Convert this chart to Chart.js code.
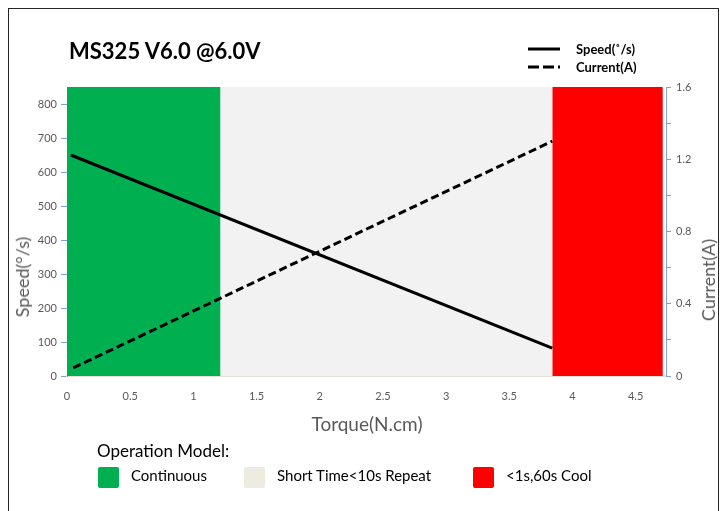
<!DOCTYPE html>
<html>
<head>
<meta charset="utf-8">
<script src="https://cdn.jsdelivr.net/npm/chart.js@4/dist/chart.umd.min.js"></script>
<style>
  html, body { margin: 0; padding: 0; background: #fff; }
  body { width: 724px; height: 511px; position: relative; overflow: hidden; font-family: Lato, "Open Sans", sans-serif; }
  #frame { position: absolute; left: 8px; top: 8px; width: 711px; height: 520px; border: 1px solid #262626; box-sizing: border-box; }
  #chart { position: absolute; left: 0; top: 0; }
  .txt { position: absolute; white-space: nowrap; }
  #title { left: 69px; top: 37px; font-size: 22px; font-weight: bold; color: #000; }
  .axisTitle { color: #595959; font-size: 18px; line-height: 20px; }
  #yTitle { left: 22px; top: 277px; transform: translate(-50%, -50%) rotate(-90deg); }
  #y1Title { left: 708px; top: 280px; transform: translate(-50%, -50%) rotate(-90deg); }
  #xTitle { left: 367px; top: 424px; transform: translate(-50%, -50%); font-size: 19px; }
  .topLeg { left: 528px; display: flex; align-items: center; font-size: 13px; font-weight: bold; color: #000; }
  .topLeg svg { margin-right: 16px; }
  #opTitle { left: 97px; top: 440px; font-size: 17px; color: #000; }
  #zoneLegend .item { position: absolute; top: 467px; height: 21px; display: flex; align-items: flex-start; font-size: 15px; line-height: 16px; color: #000; }
  #zoneLegend .box { width: 21px; height: 21px; border-radius: 2px; margin-right: 12px; }
  #zoneLegend .item span:last-child { margin-top: 0px; }
</style>
</head>
<body>
<div id="frame"></div>
<canvas id="chart" width="724" height="511"></canvas>
<div class="txt" id="title">MS325 V6.0 @6.0V</div>
<div class="txt topLeg" style="top:41px">
  <svg width="32" height="6"><line x1="0" y1="3" x2="32" y2="3" stroke="#000" stroke-width="3"/></svg>Speed(˚/s)
</div>
<div class="txt topLeg" style="top:59px">
  <svg width="32" height="6"><line x1="0" y1="3" x2="32" y2="3" stroke="#000" stroke-width="3" stroke-dasharray="11,4"/></svg>Current(A)
</div>
<div class="txt axisTitle" id="yTitle">Speed(°/s)</div>
<div class="txt axisTitle" id="y1Title">Current(A)</div>
<div class="txt axisTitle" id="xTitle">Torque(N.cm)</div>
<div class="txt" id="opTitle">Operation Model:</div>
<div id="zoneLegend"></div>
<script>
// данные кривых
const speedTorque = [0.03, 3.84];
const speedValues = [650, 82];
const currentTorque = [0.05, 3.84];
const currentValues = [0.045, 1.30];

// зоны режимов работы
const zoneNames = ['Continuous', 'Short Time<10s Repeat', '<1s,60s Cool'];
const zoneStart = [0, 1.215, 3.84];
const zoneEnd = [1.215, 3.84, 4.715];
const zoneColors = ['#00B050', '#F2F2F2', '#FF0000'];
const zoneLegendColors = ['#00B050', '#EEECE1', '#FF0000'];
const zoneLegendX = [98, 244, 473];

const speedMax = 850;
const torqueMax = 4.74;
const axisBlue = '#7FA3D6';
const tickGray = '#595959';

function toPoints(xs, ys) {
  return xs.map((x, i) => ({ x: x, y: ys[i] }));
}

function createZoneLegend() {
  const box = document.getElementById('zoneLegend');
  zoneNames.forEach((name, i) => {
    const item = document.createElement('div');
    item.className = 'item';
    item.style.left = zoneLegendX[i] + 'px';
    const sw = document.createElement('span');
    sw.className = 'box';
    sw.style.backgroundColor = zoneLegendColors[i];
    const label = document.createElement('span');
    label.textContent = name;
    item.appendChild(sw);
    item.appendChild(label);
    box.appendChild(item);
  });
}

const zoneDatasets = zoneNames.map((name, i) => ({
  label: name,
  data: [{ x: zoneStart[i], y: speedMax }, { x: zoneEnd[i], y: speedMax }],
  yAxisID: 'y',
  backgroundColor: zoneColors[i],
  borderWidth: 0,
  pointRadius: 0,
  fill: 'origin',
}));

createZoneLegend();

const tickFont = { family: 'Lato', size: 11 };

new Chart(document.getElementById('chart').getContext('2d'), {
  type: 'line',
  data: {
    datasets: [
      {
        label: 'Speed(˚/s)',
        data: toPoints(speedTorque, speedValues),
        yAxisID: 'y',
        borderColor: '#000',
        borderWidth: 3,
        pointRadius: 0,
        fill: false,
      },
      {
        label: 'Current(A)',
        data: toPoints(currentTorque, currentValues),
        yAxisID: 'y1',
        borderColor: '#000',
        borderWidth: 3,
        borderDash: [8, 4],
        pointRadius: 0,
        fill: false,
      },
      ...zoneDatasets,
    ],
  },
  options: {
    responsive: false,
    animation: false,
    layout: { padding: { top: 87, left: 0, right: 0, bottom: 0 } },
    plugins: {
      legend: { display: false },
      title: { display: false },
      tooltip: { enabled: false },
    },
    scales: {
      x: {
        type: 'linear',
        min: 0,
        max: torqueMax,
        grid: { display: false },
        border: { display: true, color: '#E4E0D2', width: 2 },
        ticks: {
          stepSize: 0.5,
          includeBounds: false,
          color: tickGray,
          font: tickFont,
          padding: 6,
          maxRotation: 0,
          callback: (v) => String(Math.round(v * 10) / 10), // 1 вместо 1.0
        },
        afterFit: (s) => { s.height = 135; },
      },
      y: {
        position: 'left',
        min: 0,
        max: speedMax,
        grid: { drawOnChartArea: false, color: axisBlue, tickLength: 6 },
        border: { color: axisBlue, width: 1 },
        ticks: { stepSize: 100, includeBounds: false, color: tickGray, font: tickFont, padding: 4 },
        afterFit: (s) => { s.width = 67; },
      },
      y1: {
        position: 'right',
        min: 0,
        max: 1.6,
        grid: { drawOnChartArea: false, color: axisBlue, tickLength: 5 },
        border: { color: axisBlue, width: 1 },
        ticks: {
          stepSize: 0.2,
          color: tickGray,
          font: tickFont,
          padding: 5,
          callback: (v) => {
            const k = Math.round(v * 10);
            if (k % 4 !== 0) return '';
            return k === 0 ? '0' : (k / 10).toFixed(1);
          },
        },
        afterFit: (s) => { s.width = 58; },
      },
    },
  },
});
</script>
</body>
</html>
